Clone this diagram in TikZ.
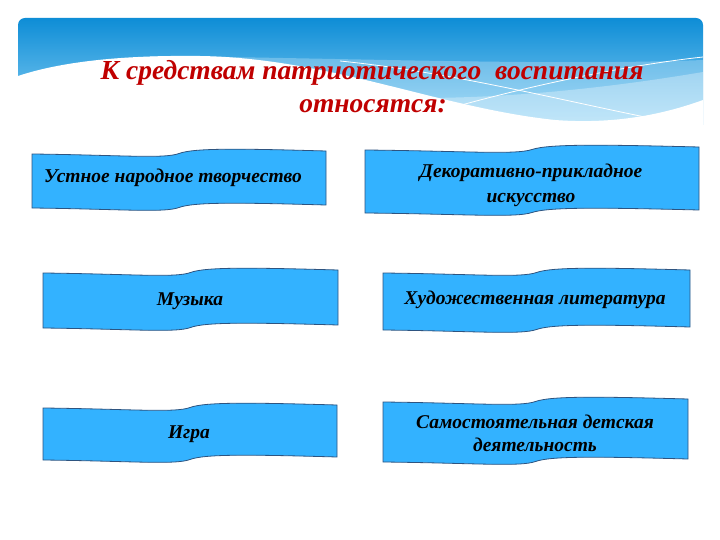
\documentclass[tikz,border=0pt]{standalone}
\usepackage{fontspec}
\setmainfont{Liberation Serif}
\usetikzlibrary{positioning}

\definecolor{hdrtop}{RGB}{14,141,214}
\definecolor{hdrmid}{RGB}{45,165,232}
\definecolor{hdrbot}{RGB}{140,210,246}
\definecolor{titlered}{RGB}{192,0,0}
\definecolor{bannerfill}{RGB}{51,178,255}
\definecolor{bannerline}{RGB}{46,84,128}

% banner with wavy top and bottom edges: left, right, top, bottom
\newcommand{\wavebox}[4]{%
  \pgfmathsetmacro{\ww}{#2-#1}
  \draw[banner] (#1,#3)
    .. controls ({#1+0.3*\ww},{#3+1}) and ({#1+0.45*\ww},{#3+5}) .. ({#1+0.5*\ww},{#3-0.5})
    .. controls ({#1+0.55*\ww},{#3-6}) and ({#1+0.7*\ww},{#3-5.5}) .. (#2,{#3-3})
    -- (#2,{#4-3})
    .. controls ({#1+0.7*\ww},{#4-5.5}) and ({#1+0.55*\ww},{#4-6}) .. ({#1+0.5*\ww},{#4-0.5})
    .. controls ({#1+0.45*\ww},{#4+5}) and ({#1+0.3*\ww},{#4+1}) .. (#1,#4) -- cycle;
}

\begin{document}
\begin{tikzpicture}[x=1pt,y=-1pt]
		\tikzstyle{banner}=[fill=bannerfill,draw=bannerline,line width=0.8pt]
		\tikzstyle{label}=[font=\fontsize{19.5}{25}\selectfont\bfseries\itshape,align=center,inner sep=0pt]
		\tikzstyle{heading}=[font=\fontsize{27.5}{33}\selectfont\bfseries\itshape,text=titlered,inner sep=0pt]
		\tikzstyle{streak}=[white,line width=0.8pt]
		
		\useasboundingbox (0,0) rectangle (720,540);
		\fill[white] (0,0) rectangle (720,540);
		
		% header
		\begin{scope}
		\clip[rounded corners=7] (18,18) rectangle (703,150);
		\shade[top color=hdrtop,middle color=hdrmid,bottom color=hdrbot] (18,18) rectangle (703,125);
		\fill[white,opacity=0.25] (150,56) .. controls (350,58) and (550,66) .. (703,60) -- (703,150) -- (150,150) -- cycle;
		\fill[white,opacity=0.3] (420,98) .. controls (520,98) and (620,86) .. (703,72) -- (703,150) -- (420,150) -- cycle;
		\fill[white] (18,76) .. controls (60,62) and (120,55) .. (200,56)
			.. controls (330,58) and (440,108) .. (555,120)
			.. controls (620,125) and (670,112) .. (703,100) -- (703,150) -- (18,150) -- cycle;
		\draw[streak] (440,111) .. controls (520,88) and (620,66) .. (703,57);
		\draw[streak] (340,61) .. controls (450,72) and (560,100) .. (650,118);
		\end{scope}
		
		\node[heading,anchor=base] (title1) at (372,80) {К средствам патриотического\ \ воспитания};
		\node[heading,anchor=base] (title2) at (373,113) {относятся:};
		
		% banners
		\wavebox{32}{326}{154}{208}
		\wavebox{365}{699}{150}{213}
		\wavebox{43}{338}{273}{328}
		\wavebox{383}{690}{273}{330}
		\wavebox{43}{337}{408}{460}
		\wavebox{383}{688}{402}{462}
		
		\node[label,anchor=base] (oral) at (173,183) {Устное народное творчество};
		\node[label] (decor) at (531,185) {Декоративно-прикладное\\искусство};
		\node[label,anchor=base] (music) at (190,305) {Музыка};
		\node[label,anchor=base] (fiction) at (535,304) {Художественная литература};
		\node[label,anchor=base] (game) at (189,438) {Игра};
		\node[label] (selfact) at (535,433) {Самостоятельная детская\\[-2pt]деятельность};
		\end{tikzpicture}
\end{document}
